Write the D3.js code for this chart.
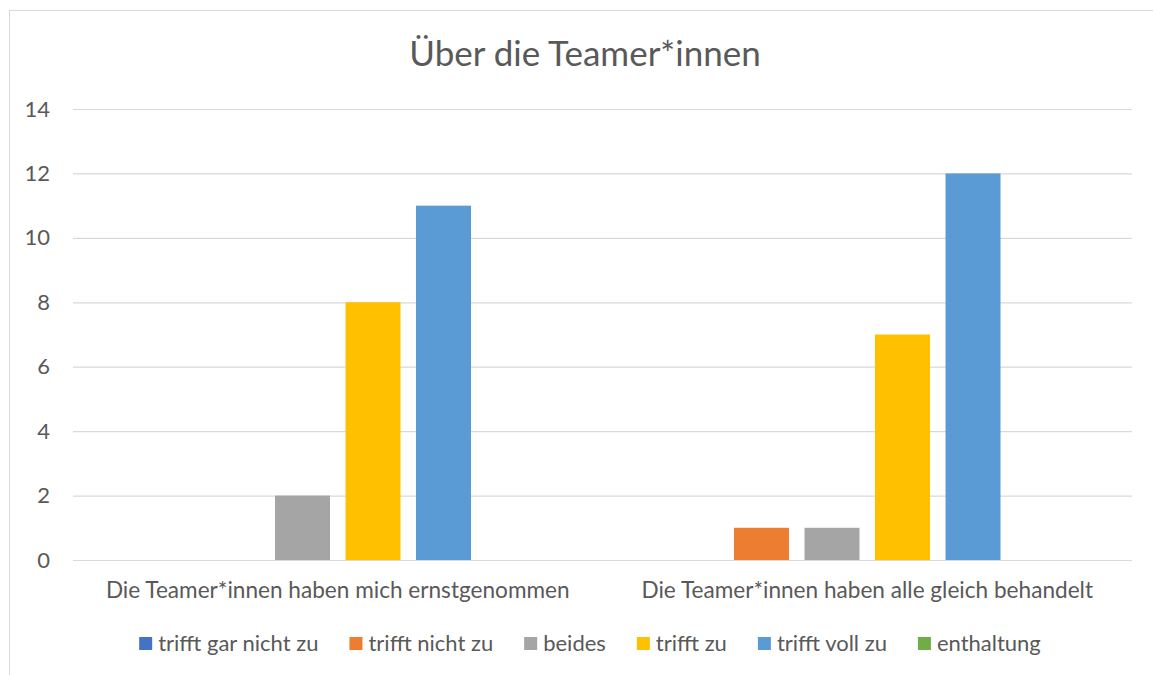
<!DOCTYPE html>
<html><head><meta charset="utf-8">
<script src="https://cdn.jsdelivr.net/npm/d3@7"></script>
<style>body{margin:0;background:#fff}svg{display:block}text{font-family:Lato,"Open Sans",sans-serif;fill:#595959}</style>
</head><body>
<svg id="c" width="1153" height="675"></svg>
<script>
const title = "Über die Teamer*innen";
const categories = ["Die Teamer*innen haben mich ernstgenommen", "Die Teamer*innen haben alle gleich behandelt"];
const seriesNames = ["trifft gar nicht zu", "trifft nicht zu", "beides", "trifft zu", "trifft voll zu", "enthaltung"];
const seriesColors = ["#4472C4", "#ED7D31", "#A5A5A5", "#FFC000", "#5B9BD5", "#70AD47"];
const values = [
  [0, 0, 2, 8, 11, 0],
  [0, 1, 1, 7, 12, 0]
];
const yTicks = [0, 2, 4, 6, 8, 10, 12, 14];

(function () {
const FONT = 'Lato,"Open Sans",sans-serif';
const svg = d3.select("#c");
svg.append("rect").attr("x", 9.5).attr("y", 10.5).attr("width", 1160).attr("height", 700)
  .attr("fill", "#fff").attr("stroke", "#d9d9d9").attr("stroke-width", 1);

const pL = 73, pR = 1132, pT = 109, pB = 560;
const y = d3.scaleLinear().domain([0, 14]).range([pB, pT]);
const x0 = d3.scaleBand().domain(categories).range([pL, pR]).padding(0);
const x1 = d3.scaleBand().domain(seriesNames).range([0, x0.bandwidth()]).paddingInner(0.22).paddingOuter(0.865);

svg.append("text").attr("x", 585).attr("y", 66).attr("text-anchor", "middle")
  .style("font-size", "35px").text(title);

const yAxis = svg.append("g").attr("transform", `translate(${pL},0)`)
  .call(d3.axisLeft(y).tickValues(yTicks).tickSize(-(pR - pL)).tickPadding(23));
yAxis.attr("font-family", FONT).attr("font-size", 22);
yAxis.select(".domain").remove();
yAxis.selectAll("line").attr("stroke", "#d9d9d9").attr("stroke-width", 1.2);
yAxis.selectAll("text").attr("fill", "#595959");

const g = svg.append("g");
categories.forEach((c, ci) => {
  g.selectAll(null).data(values[ci].map((v, si) => ({v, s: seriesNames[si], color: seriesColors[si]})))
    .enter().append("rect")
    .attr("x", d => x0(c) + x1(d.s))
    .attr("width", x1.bandwidth())
    .attr("y", d => y(d.v))
    .attr("height", d => y(0) - y(d.v))
    .attr("fill", d => d.color);
  svg.append("text").attr("x", x0(c) + x0.bandwidth() / 2).attr("y", 598)
    .attr("text-anchor", "middle").style("font-size", "22.6px").text(c);
});

const lg = svg.append("g");
const items = seriesNames.map((n, i) => {
  const gi = lg.append("g");
  gi.append("rect").attr("width", 13).attr("height", 13).attr("y", 637).attr("fill", seriesColors[i]);
  const t = gi.append("text").attr("x", 19).attr("y", 651).style("font-size", "22px").text(n);
  return {gi, w: 19 + t.node().getComputedTextLength()};
});
const gap = 31;
const total = d3.sum(items, d => d.w) + gap * (items.length - 1);
let xx = 590 - total / 2;
items.forEach(it => { it.gi.attr("transform", `translate(${xx},0)`); xx += it.w + gap; });
})();
</script>
</body></html>
